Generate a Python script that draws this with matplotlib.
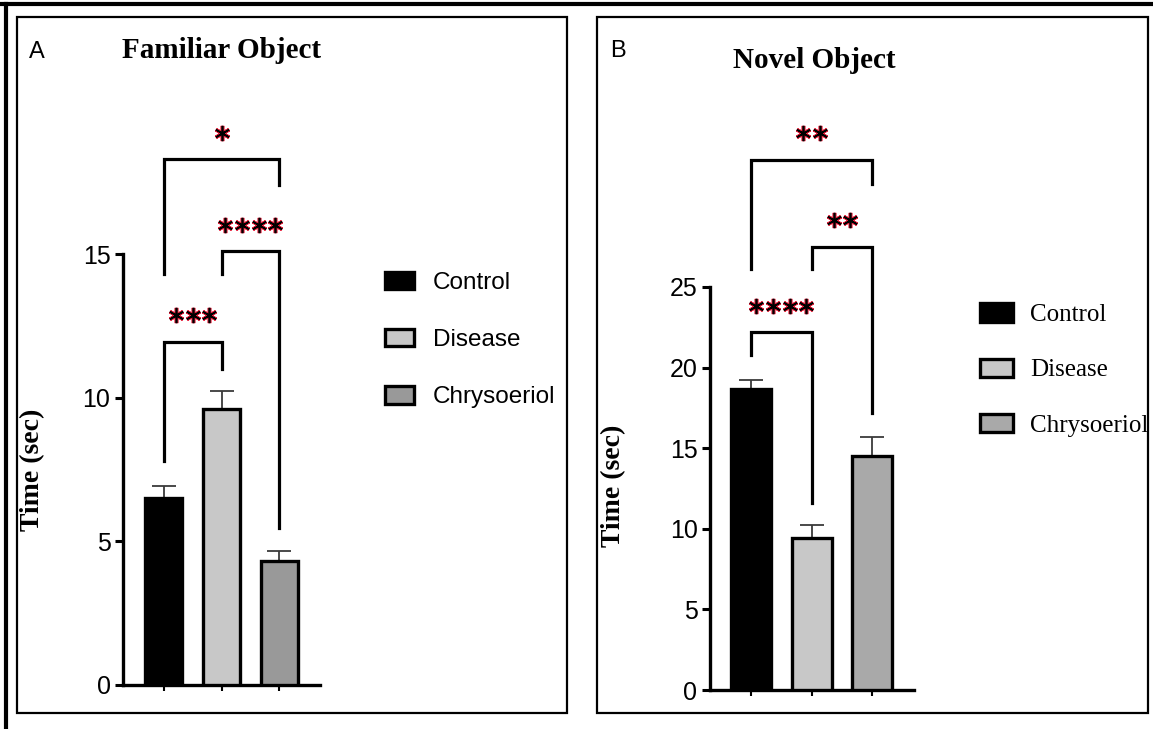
import matplotlib
matplotlib.use('Agg')

import matplotlib.pyplot as plt
from matplotlib.patches import Patch, Rectangle
from matplotlib.lines import Line2D
from matplotlib.transforms import offset_copy

W, H = 1153, 729

groups = ["Control", "Disease", "Chrysoeriol"]

familiar_mean = [6.52, 9.62, 4.3]
familiar_sem = [0.42, 0.62, 0.35]
novel_mean = [18.7, 9.45, 14.5]
novel_sem = [0.5, 0.8, 1.2]

# significance brackets: pair of groups, bar height, leg ends, stars
familiar_pairs = [(0, 1), (1, 2), (0, 2)]
familiar_bracket_y = [11.95, 15.1, 18.3]
familiar_leg_ends = [(7.8, 11.0), (14.3, 5.45), (14.3, 17.4)]
familiar_stars = ["***", "****", "*"]

novel_pairs = [(0, 1), (1, 2), (0, 2)]
novel_bracket_y = [22.2, 27.5, 32.9]
novel_leg_ends = [(20.8, 11.6), (26.1, 17.2), (26.1, 31.4)]
novel_stars = ["****", "**", "**"]

SANS = "Liberation Sans"
SERIF = "Liberation Serif"


def px(x, y):
    # pixel position -> figure fraction
    return x / W, 1 - y / H


def draw_panel(fig, rect, means, sems, colors, ylim, yticks, pairs, bracket_y,
               leg_ends, stars, xlim, width):
    ax = fig.add_axes(rect)
    x = list(range(len(means)))
    ax.errorbar(x, means, yerr=[[0] * len(sems), sems], fmt='none',
                ecolor='#3a3a3a', elinewidth=1.3, capsize=8.5, capthick=1.3, zorder=2)
    ax.bar(x, means, width=width, color=colors, edgecolor='black', linewidth=2.4, zorder=3)

    ax.set_xlim(*xlim)
    ax.set_ylim(*ylim)
    ax.set_yticks(yticks)
    ax.set_xticks(x)
    ax.set_xticklabels([])
    for s in ['top', 'right']:
        ax.spines[s].set_visible(False)
    for s in ['left', 'bottom']:
        ax.spines[s].set_linewidth(2.4)
    ax.tick_params(axis='y', length=6, width=2.2, labelsize=18, pad=3)
    ax.tick_params(axis='x', length=4, width=1.5)
    for lab in ax.get_yticklabels():
        lab.set_fontfamily(SANS)

    # brackets + stars
    for (i, j), yb, (l0, l1), st in zip(pairs, bracket_y, leg_ends, stars):
        ax.plot([i, i, j, j], [l0, yb, yb, l1], color='black', lw=2.3,
                clip_on=False, solid_joinstyle='miter', zorder=4)
        n = len(st)
        xc = (i + j) / 2
        for k in range(n):
            tr = offset_copy(ax.transData, fig, x=(k - (n - 1) / 2) * 12, y=19, units='points')
            ax.plot([xc], [yb], transform=tr, marker=(6, 2, 0), ms=11, mew=2.6,
                    color='#e8203c', clip_on=False, zorder=5)
            ax.plot([xc], [yb], transform=tr, marker=(6, 2, 0), ms=11, mew=1.2,
                    color='black', clip_on=False, zorder=6)
    return ax


fig = plt.figure(figsize=(W / 100, H / 100), dpi=100)

# outer frame + panel boxes
fig.add_artist(Line2D([0, 1], [1 - 4 / H, 1 - 4 / H], color='black', lw=3,
                      transform=fig.transFigure))
fig.add_artist(Line2D([6 / W, 6 / W], [0, 1 - 4 / H], color='black', lw=3,
                      transform=fig.transFigure))
for x0, x1 in [(17, 567), (597, 1148)]:
    fig.add_artist(Rectangle(px(x0, 713), (x1 - x0) / W, (713 - 17) / H, fill=False,
                             edgecolor='black', lw=1.6, transform=fig.transFigure))

# panel A
axA = draw_panel(fig, [123 / W, 1 - 685 / H, 197 / W, 431 / H],
                 familiar_mean, familiar_sem, ['black', '#c8c8c8', '#999999'],
                 (0, 15), [0, 5, 10, 15], familiar_pairs, familiar_bracket_y,
                 familiar_leg_ends, familiar_stars, (-0.7, 2.7), 0.65)
axA.set_ylabel("Time (sec)", family=SERIF, fontweight='bold', fontsize=20)
axA.yaxis.set_label_coords(-0.396, 0.50)

# panel B
axB = draw_panel(fig, [710 / W, 1 - 690 / H, 204 / W, 403 / H],
                 novel_mean, novel_sem, ['black', '#c8c8c8', '#a9a9a9'],
                 (0, 25), [0, 5, 10, 15, 20, 25], novel_pairs, novel_bracket_y,
                 novel_leg_ends, novel_stars, (-0.68, 2.69), 0.66)
axB.set_ylabel("Time (sec)", family=SERIF, fontweight='bold', fontsize=20)
axB.yaxis.set_label_coords(-0.41, 0.506)

# titles and panel letters
fig.text(*px(222, 51), "Familiar Object", family=SERIF, fontweight='bold',
         fontsize=21, ha='center', va='center')
fig.text(*px(814, 60), "Novel Object", family=SERIF, fontweight='bold',
         fontsize=21, ha='center', va='center')
fig.text(*px(29, 52), "A", family=SANS, fontsize=17, ha='left', va='center')
fig.text(*px(610, 51), "B", family=SANS, fontsize=17, ha='left', va='center')

# legends
colsA = ['black', '#c8c8c8', '#999999']
colsB = ['black', '#c8c8c8', '#a9a9a9']
hA = [Patch(facecolor=c, edgecolor='black', lw=2.4) for c in colsA]
hB = [Patch(facecolor=c, edgecolor='black', lw=2.4) for c in colsB]
fig.legend(hA, groups, loc='center left', bbox_to_anchor=px(385, 340),
           frameon=False, borderpad=0, borderaxespad=0, handlelength=1.2,
           handleheight=0.74, handletextpad=0.78, labelspacing=1.44,
           prop={'family': SANS, 'size': 17.5})
fig.legend(hB, groups, loc='center left', bbox_to_anchor=px(980, 370),
           frameon=False, borderpad=0, borderaxespad=0, handlelength=1.3,
           handleheight=0.75, handletextpad=0.7, labelspacing=1.3,
           prop={'family': SERIF, 'size': 18})

fig.savefig('out.png', dpi=100)
